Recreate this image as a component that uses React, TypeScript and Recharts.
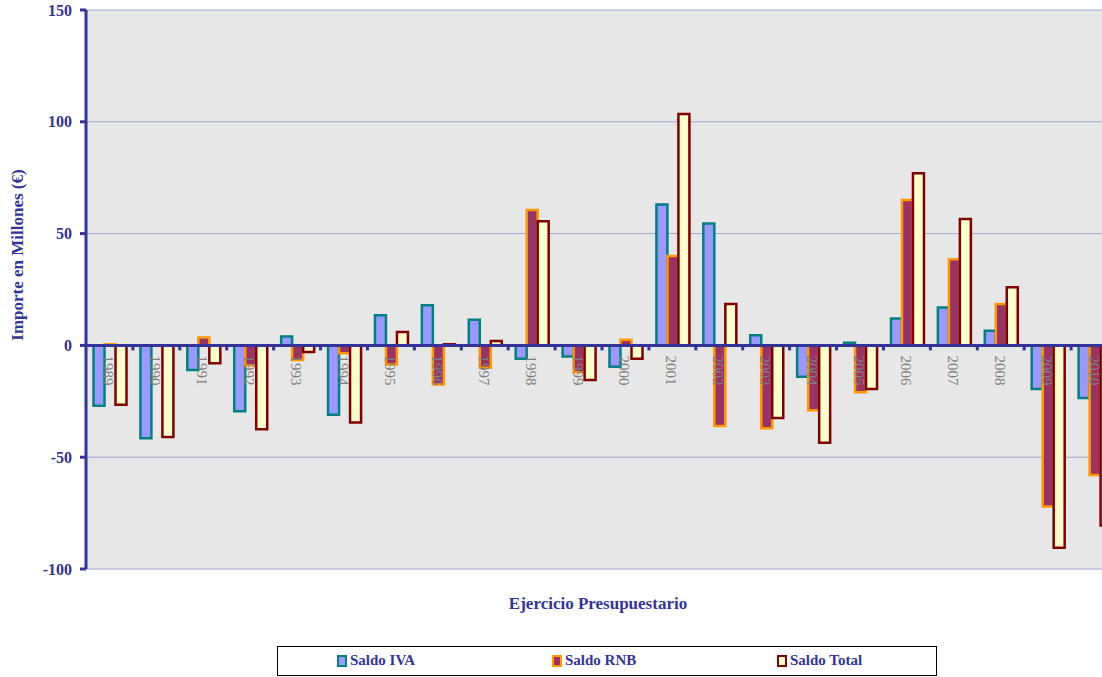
import { BarChart, Bar, XAxis, YAxis, CartesianGrid, ReferenceLine } from "recharts";

const years = [
  "1989", "1990", "1991", "1992", "1993", "1994", "1995", "1996", "1997", "1998", "1999",
  "2000", "2001", "2002", "2003", "2004", "2005", "2006", "2007", "2008", "2009", "2010",
];
const saldoIva = [
  -27, -41.5, -11, -29.5, 4, -31, 13.5, 18, 11.5, -6, -5,
  -9.5, 63, 54.5, 4.5, -14, 1.2, 12, 17, 6.5, -19.5, -23.5,
];
const saldoRnb = [
  0.5, 0, 3.5, -9, -6.5, -3.5, -8.5, -17.5, -10, 60.5, -12,
  2.5, 40, -36, -37, -29, -21, 65, 38.5, 18.5, -72, -58,
];
const saldoTotal = [
  -26.5, -41, -8, -37.5, -3, -34.5, 6, 0.5, 2, 55.5, -15.5,
  -6, 103.5, 18.5, -32.5, -43.5, -19.5, 77, 56.5, 26, -90.5, -80.5,
];
const yTicks = [-100, -50, 0, 50, 100, 150];

const data = years.map((year, i) => ({
  year,
  iva: saldoIva[i],
  rnb: saldoRnb[i],
  total: saldoTotal[i],
}));

const CHART_W = 1120;
const CHART_H = 677;
const TOP = 10;
const LEFT = 86;
const RIGHT = 2;
const BOTTOM = 88;
const X_AXIS_H = 20;
const PLOT_H = CHART_H - TOP - BOTTOM - X_AXIS_H;
const PLOT_W = CHART_W - LEFT - RIGHT;
const BAND = PLOT_W / years.length;
// distance from plot bottom (-100) up to the zero line
const ZERO_UP = (PLOT_H * 100) / 250;

const BLUE = "#333399";

// eslint-disable-next-line @typescript-eslint/no-explicit-any
function YearTick({ x, y, payload }: any) {
  const zy = y - ZERO_UP;
  return (
    <g>
      <line x1={x + BAND / 2} x2={x + BAND / 2} y1={zy} y2={zy + 5} stroke={BLUE} strokeWidth={3} />
      <text
        x={x - 1}
        y={zy + 10}
        transform={`rotate(90 ${x - 1} ${zy + 10})`}
        fill="#808080"
        fontSize={15}
        fontFamily="'Liberation Serif', 'Times New Roman', serif"
        dominantBaseline="central"
      >
        {payload.value}
      </text>
    </g>
  );
}

const legendItems = [
  { label: "Saldo IVA", fill: "#9999FF", stroke: "#008080", left: 336 },
  { label: "Saldo RNB", fill: "#993366", stroke: "#FF9900", left: 551 },
  { label: "Saldo Total", fill: "#FFFFCC", stroke: "#800000", left: 776 },
];

export default function App() {
  const serif = "'Liberation Serif', 'Times New Roman', serif";
  return (
    <div
      style={{
        position: "absolute",
        left: 0,
        top: 0,
        width: 1102,
        height: 677,
        overflow: "hidden",
        background: "#ffffff",
        fontFamily: serif,
      }}
    >
      <BarChart
        width={CHART_W}
        height={CHART_H}
        data={data}
        margin={{ top: TOP, right: RIGHT, left: 0, bottom: BOTTOM }}
        barCategoryGap="16%"
        barGap={0}
      >
        <CartesianGrid vertical={false} stroke="#A3A3D3" fill="#E7E7E7" />
        <XAxis
          dataKey="year"
          height={X_AXIS_H}
          axisLine={false}
          tickLine={false}
          tickSize={0}
          tickMargin={0}
          interval={0}
          tick={<YearTick />}
        />
        <YAxis
          width={LEFT}
          domain={[-100, 150]}
          ticks={yTicks}
          interval={0}
          axisLine={{ stroke: BLUE, strokeWidth: 3 }}
          tickLine={{ stroke: BLUE, strokeWidth: 3 }}
          tickSize={6}
          tickMargin={8}
          tick={{ fill: BLUE, fontSize: 16, fontWeight: "bold", fontFamily: serif }}
        />
        <Bar dataKey="iva" fill="#9999FF" stroke="#008080" strokeWidth={2.5} isAnimationActive={false} />
        <Bar dataKey="rnb" fill="#993366" stroke="#FF9900" strokeWidth={2.5} isAnimationActive={false} />
        <Bar dataKey="total" fill="#FFFFCC" stroke="#800000" strokeWidth={2.5} isAnimationActive={false} />
        <ReferenceLine y={0} stroke={BLUE} strokeWidth={3} />
      </BarChart>

      <div
        style={{
          position: "absolute",
          left: 18,
          top: 255,
          transform: "translate(-50%, -50%) rotate(-90deg)",
          whiteSpace: "nowrap",
          color: BLUE,
          fontWeight: "bold",
          fontSize: 17,
        }}
      >
        Importe en Millones (€)
      </div>

      <div
        style={{
          position: "absolute",
          left: 598,
          top: 604,
          transform: "translate(-50%, -50%)",
          whiteSpace: "nowrap",
          color: BLUE,
          fontWeight: "bold",
          fontSize: 17,
        }}
      >
        Ejercicio Presupuestario
      </div>

      <div
        style={{
          position: "absolute",
          left: 277,
          top: 646,
          width: 658,
          height: 28,
          border: "1.5px solid #000",
          background: "#fff",
        }}
      >
        {legendItems.map((it) => (
          <div
            key={it.label}
            style={{
              position: "absolute",
              left: it.left - 277,
              top: 5,
              display: "flex",
              alignItems: "center",
              gap: 3,
              color: BLUE,
              fontWeight: "bold",
              fontSize: 15,
            }}
          >
            <span
              style={{
                display: "inline-block",
                width: 6,
                height: 8,
                background: it.fill,
                border: `2.5px solid ${it.stroke}`,
              }}
            />
            <span>{it.label}</span>
          </div>
        ))}
      </div>
    </div>
  );
}
